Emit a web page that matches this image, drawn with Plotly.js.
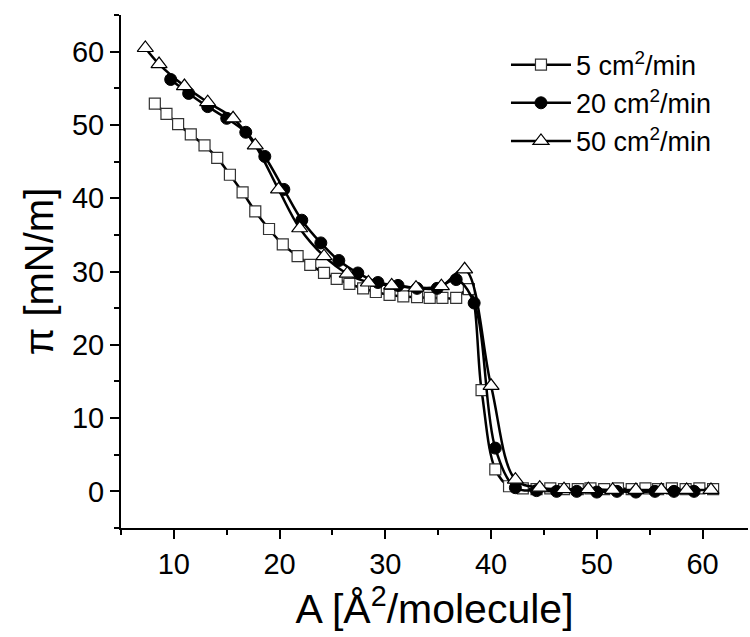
<!DOCTYPE html>
<html>
<head>
<meta charset="utf-8">
<script src="https://cdn.plot.ly/plotly-3.0.1.min.js"></script>
<style>html,body{margin:0;padding:0;background:#fff;}#chart{width:750px;height:637px;}</style>
</head>
<body>
<div id="chart"></div>
<script>
// 5 cm2/min (open squares)
const areaS5 = [8.2, 9.3, 10.4, 11.6, 12.9, 14.1, 15.3, 16.5, 17.7, 19.0, 20.3, 21.7, 22.9, 24.2, 25.4, 26.6, 27.9, 29.1, 30.4, 31.7, 33.0, 34.2, 35.4, 36.7, 37.9, 39.1, 40.4, 41.7, 43.0, 44.3, 45.6, 46.9, 48.2, 49.4, 50.7, 52.0, 53.3, 54.6, 55.8, 57.1, 58.4, 59.7, 61.0];
const piS5   = [52.9, 51.5, 50.1, 48.7, 47.2, 45.5, 43.2, 40.8, 38.2, 35.8, 33.7, 32.1, 30.9, 29.8, 29.0, 28.3, 27.7, 27.2, 26.8, 26.6, 26.5, 26.4, 26.4, 26.4, 27.6, 13.8, 3.0, 0.7, 0.4, 0.3, 0.4, 0.3, 0.3, 0.4, 0.3, 0.4, 0.3, 0.4, 0.3, 0.4, 0.3, 0.4, 0.3];
// 20 cm2/min (filled circles)
const areaS20 = [9.7, 11.4, 13.2, 15.0, 16.8, 18.6, 20.4, 22.1, 23.9, 25.6, 27.4, 29.3, 31.2, 33.0, 34.9, 36.7, 38.4, 40.4, 42.3, 44.3, 46.2, 48.1, 50.0, 51.9, 53.7, 55.5, 57.3, 59.2];
const piS20   = [56.2, 54.3, 52.5, 50.9, 49.0, 45.7, 41.2, 37.0, 33.9, 31.5, 29.8, 28.5, 28.1, 27.7, 27.7, 28.9, 25.7, 5.9, 0.5, 0.1, 0.0, 0.0, -0.1, 0.0, -0.1, 0.0, 0.0, 0.0];
// 50 cm2/min (open triangles)
const areaS50 = [7.3, 8.6, 11.0, 13.2, 15.6, 17.7, 19.9, 21.9, 24.2, 26.4, 28.4, 30.6, 32.9, 35.3, 37.5, 40.0, 42.3, 44.6, 46.9, 49.2, 51.5, 53.7, 56.1, 58.5, 60.8];
const piS50   = [60.5, 58.3, 55.3, 53.1, 50.9, 47.2, 41.2, 35.9, 32.1, 29.7, 28.5, 28.1, 27.8, 28.0, 30.3, 14.4, 1.6, 0.5, 0.3, 0.3, 0.2, 0.2, 0.2, 0.2, 0.2];

const seriesNames = ["5 cm<sup>2</sup>/min", "20 cm<sup>2</sup>/min", "50 cm<sup>2</sup>/min"];
const xTickVals = [10, 20, 30, 40, 50, 60];
const yTickVals = [0, 10, 20, 30, 40, 50, 60];

const FONT = '"Liberation Sans", Arial, sans-serif';
const lineStyle = {color: '#000', width: 2.5, shape: 'spline', smoothing: 1};

const traces = [
  {x: areaS5, y: piS5, name: seriesNames[0], mode: 'lines+markers', type: 'scatter',
   line: lineStyle,
   marker: {symbol: 'square', size: 11, color: '#fff', line: {color: '#333', width: 1.2}}},
  {x: areaS20, y: piS20, name: seriesNames[1], mode: 'lines+markers', type: 'scatter',
   line: lineStyle,
   marker: {symbol: 'circle', size: 12, color: '#000', line: {color: '#000', width: 1}}},
  {x: areaS50, y: piS50, name: seriesNames[2], mode: 'lines+markers', type: 'scatter',
   line: lineStyle,
   marker: {symbol: 'triangle-up', size: 14, color: '#fff', line: {color: '#000', width: 1.2}}}
];

const layout = {
  width: 750, height: 637,
  margin: {l: 121, r: 2, t: 15, b: 109},
  paper_bgcolor: '#fff', plot_bgcolor: '#fff',
  font: {family: FONT, color: '#000'},
  showlegend: true,
  legend: {x: 0.614, y: 0.95, xanchor: 'left', yanchor: 'top', bgcolor: 'rgba(0,0,0,0)',
           itemwidth: 60,
           font: {family: FONT, size: 27, color: '#000'}, tracegroupgap: 0},
  xaxis: {
    range: [5, 64.3], showgrid: false, zeroline: false,
    showline: true, linecolor: '#000', linewidth: 2,
    ticks: 'outside', ticklen: 9, tickwidth: 2, tickcolor: '#000',
    tickvals: xTickVals, ticktext: xTickVals.map(String),
    tickfont: {family: FONT, size: 29, color: '#000'},
    minor: {dtick: 5, tick0: 0, ticks: 'outside', ticklen: 5, tickwidth: 2, tickcolor: '#000', showgrid: false},
    title: {text: 'A [Å<sup>2</sup>/molecule]', font: {family: FONT, size: 41, color: '#000'}, standoff: 8}
  },
  yaxis: {
    range: [-5, 65], showgrid: false, zeroline: false,
    showline: true, linecolor: '#000', linewidth: 2,
    ticks: 'outside', ticklen: 9, tickwidth: 2, tickcolor: '#000',
    tickvals: yTickVals, ticktext: yTickVals.map(String),
    tickfont: {family: FONT, size: 29, color: '#000'},
    minor: {dtick: 5, tick0: 0, ticks: 'outside', ticklen: 5, tickwidth: 2, tickcolor: '#000', showgrid: false},
    title: {text: 'π [mN/m]', font: {family: FONT, size: 40, color: '#000'}, standoff: 6}
  }
};

Plotly.newPlot('chart', traces, layout, {staticPlot: true, displayModeBar: false});
</script>
</body>
</html>
